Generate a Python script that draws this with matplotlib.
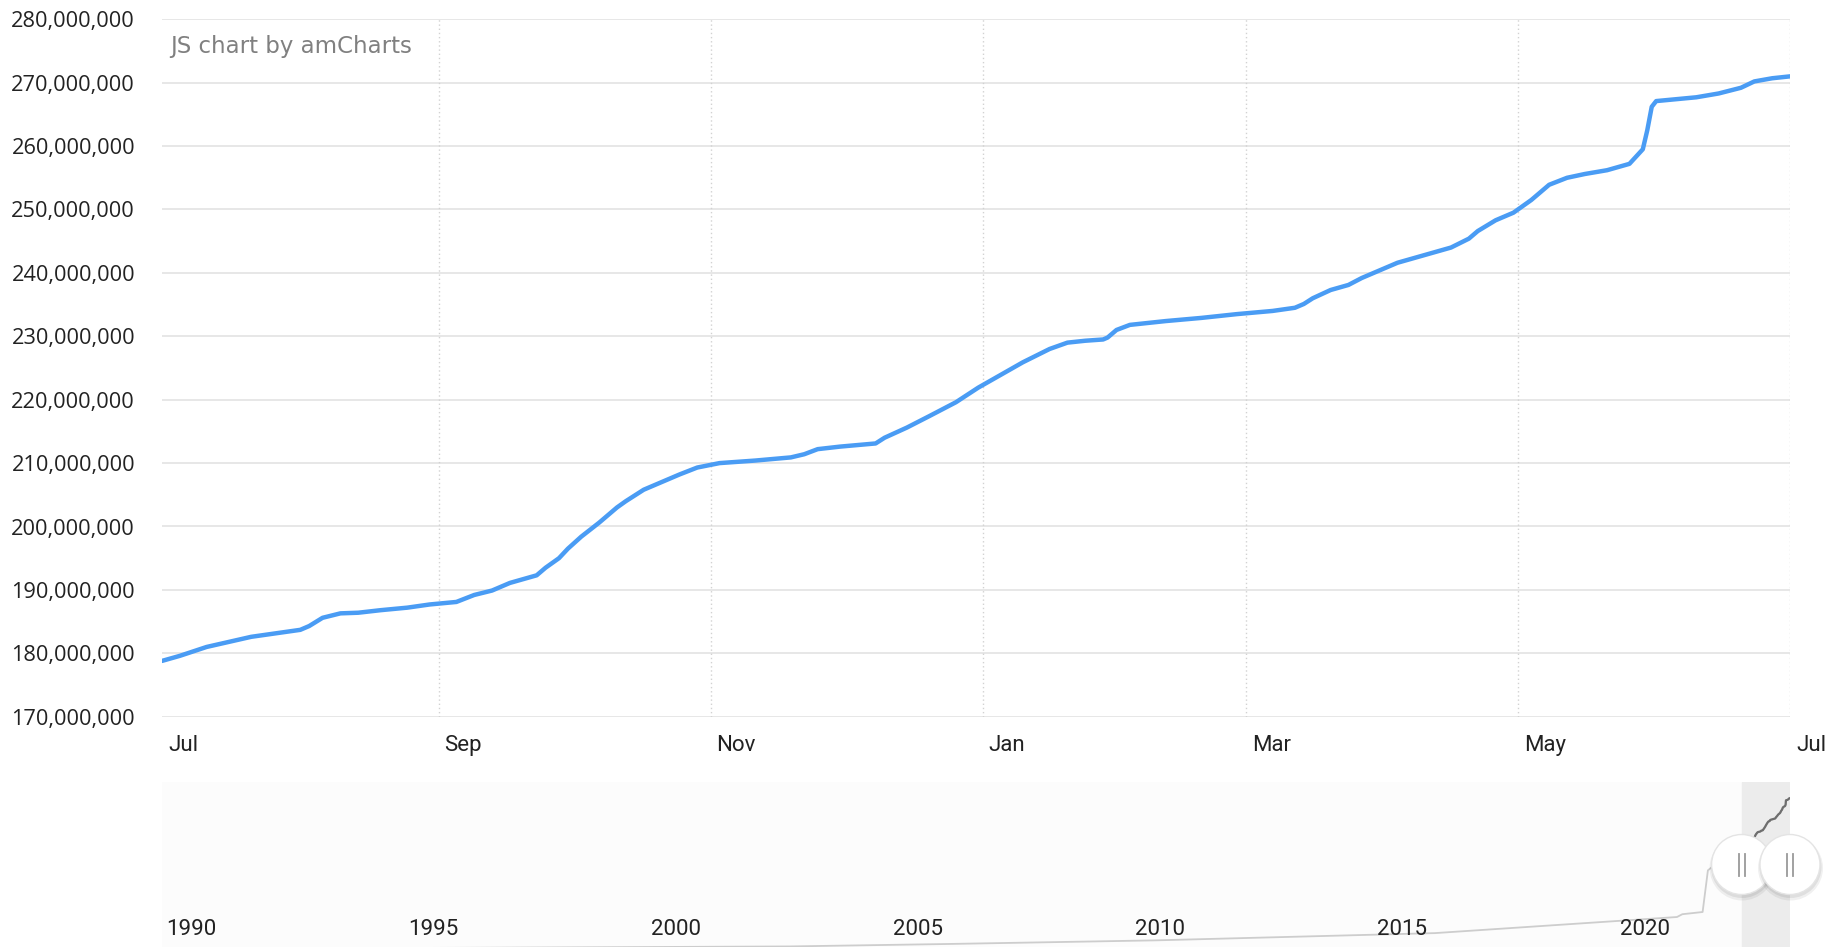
import numpy as np
import pandas as pd
import matplotlib
matplotlib.use('Agg')
import matplotlib.pyplot as plt
import matplotlib.dates as mdates
from matplotlib.ticker import FuncFormatter
from matplotlib.transforms import offset_copy
from matplotlib.patches import Circle

# Serie del periodo visible (millones)
fechas = [
    "2022-07-01", "2022-07-05", "2022-07-11", "2022-07-16", "2022-07-21", "2022-07-27",
    "2022-08-01", "2022-08-03", "2022-08-06", "2022-08-10", "2022-08-14", "2022-08-19",
    "2022-08-25", "2022-08-30", "2022-09-05", "2022-09-09", "2022-09-13", "2022-09-17",
    "2022-09-23", "2022-09-25", "2022-09-28", "2022-09-30", "2022-10-03", "2022-10-07",
    "2022-10-11", "2022-10-13", "2022-10-17", "2022-10-21", "2022-10-25", "2022-10-29",
    "2022-11-03", "2022-11-11", "2022-11-19", "2022-11-22", "2022-11-25", "2022-11-30",
    "2022-12-08", "2022-12-10", "2022-12-15", "2022-12-20", "2022-12-26", "2022-12-31",
    "2023-01-05", "2023-01-10", "2023-01-16", "2023-01-20", "2023-01-24", "2023-01-28",
    "2023-01-29", "2023-01-31", "2023-02-03", "2023-02-11", "2023-02-19", "2023-02-27",
    "2023-03-07", "2023-03-12", "2023-03-14", "2023-03-16", "2023-03-20", "2023-03-24",
    "2023-03-27", "2023-03-31", "2023-04-04", "2023-04-09", "2023-04-14", "2023-04-16",
    "2023-04-20", "2023-04-22", "2023-04-26", "2023-04-30", "2023-05-04", "2023-05-08",
    "2023-05-12", "2023-05-16", "2023-05-21", "2023-05-26", "2023-05-29", "2023-05-30",
    "2023-05-31", "2023-06-01", "2023-06-10", "2023-06-15", "2023-06-20", "2023-06-23",
    "2023-06-27", "2023-07-01",
]
valores = [
    178.8, 179.6, 181.0, 181.8, 182.6, 183.2,
    183.7, 184.3, 185.6, 186.3, 186.4, 186.8,
    187.2, 187.7, 188.1, 189.2, 189.9, 191.1,
    192.3, 193.5, 195.0, 196.5, 198.4, 200.6,
    203.0, 204.0, 205.8, 207.0, 208.2, 209.3,
    210.0, 210.4, 210.9, 211.4, 212.2, 212.6,
    213.1, 214.0, 215.6, 217.4, 219.6, 221.9,
    223.9, 225.9, 228.0, 229.0, 229.3, 229.5,
    229.8, 231.0, 231.8, 232.4, 232.9, 233.5,
    234.0, 234.5, 235.1, 236.0, 237.3, 238.1,
    239.2, 240.4, 241.6, 242.6, 243.6, 244.0,
    245.4, 246.6, 248.3, 249.5, 251.5, 253.9,
    255.0, 255.6, 256.2, 257.2, 259.5, 262.5,
    266.2, 267.1, 267.7, 268.3, 269.2, 270.2,
    270.7, 271.0,
]

# Historia completa que se ve en la barra de desplazamiento (millones)
fechas_hist = ["1989-11-20", "1996-01-01", "2002-11-01", "2006-03-01", "2010-06-01",
               "2016-03-01", "2021-03-01", "2021-04-10", "2021-09-10", "2021-10-20", "2022-04-01"]
valores_hist = [0, 1.5, 4, 8.5, 15, 28, 57, 62, 66, 141, 172]

meses = ["2022-07-01", "2022-09-01", "2022-11-01", "2023-01-01", "2023-03-01", "2023-05-01", "2023-07-01"]
etiquetas_mes = ["Jul", "Sep", "Nov", "Jan", "Mar", "May", "Jul"]
anios = [1990, 1995, 2000, 2005, 2010, 2015, 2020]

W, H = 1828, 947
fig = plt.figure(figsize=(W / 100, H / 100), dpi=100)
fig.patch.set_facecolor('white')

# --- grafico principal ---
ax = fig.add_axes([162 / W, 1 - 716.7 / H, 1628 / W, (716.7 - 19.3) / H])
x = pd.to_datetime(fechas)
y = np.array(valores) * 1e6
ax.plot(x, y, color='#4a9cf4', lw=3.2, solid_joinstyle='round', solid_capstyle='round', zorder=3)

inicio, fin = pd.Timestamp(meses[0]), pd.Timestamp(meses[-1])
ax.set_xlim(inicio, fin)
ax.set_ylim(170e6, 280e6)
ax.set_yticks(np.arange(170e6, 280e6 + 1, 10e6))
ax.yaxis.set_major_formatter(FuncFormatter(lambda v, p: f'{v:,.0f}'))
ax.tick_params(axis='y', length=0, pad=19.4, labelsize=15.7, labelcolor='#222222')
for lbl in ax.get_yticklabels():
    lbl.set_fontfamily('Open Sans')
ax.set_xticks([])
ax.grid(axis='y', color='#e3e3e3', lw=1.2)
ax.set_axisbelow(True)
for m in meses[1:]:
    ax.axvline(pd.Timestamp(m), color='#d2d2d2', lw=1, ls=(0, (1, 2)), zorder=1)
for s in ax.spines.values():
    s.set_visible(False)

tr = offset_copy(ax.get_xaxis_transform(), fig=fig, x=6, y=-29, units='dots')
for m, lab in zip(meses, etiquetas_mes):
    ax.text(pd.Timestamp(m), 0, lab, transform=tr, ha='left', va='center',
            fontsize=16, family='Roboto', color='#222222')

ax.text(0.005, 0.9603, 'JS chart by amCharts', transform=ax.transAxes, ha='left', va='center',
        fontsize=16.5, family='DejaVu Sans', color='#808080')

# --- barra de desplazamiento ---
ax2 = fig.add_axes([162 / W, 0, 1628 / W, 165 / H])
ax2.set_facecolor('#fcfcfc')
x_hist = pd.to_datetime(fechas_hist)
todo_x = np.concatenate([mdates.date2num(x_hist), mdates.date2num(x)])
todo_y = np.concatenate([valores_hist, valores])
ax2.set_xlim(pd.Timestamp(fechas_hist[0]), fin)
ax2.set_ylim(3, 300)
ax2.axvspan(inicio, fin, color='#ececec', zorder=0.5)
ax2.plot(todo_x, todo_y, color='#cdcdcd', lw=1.3, zorder=1)
ax2.plot(x, valores, color='#6e6e6e', lw=1.6, zorder=2)
ax2.set_xticks([])
ax2.set_yticks([])
for s in ax2.spines.values():
    s.set_visible(False)
for a in anios:
    ax2.text(pd.Timestamp(f'{a}-07-01'), 0.109, str(a), transform=ax2.get_xaxis_transform(),
             ha='center', va='center', fontsize=16, family='Roboto', color='#222222')

# tiradores de la barra
ov = fig.add_axes([0, 0, 1, 1], zorder=5)
ov.set_xlim(0, W)
ov.set_ylim(0, H)
ov.axis('off')
cy = ax2.transAxes.transform((0, 0.5))[1]
for d in [inicio, fin]:
    cx = ax2.transData.transform((mdates.date2num(d), 0))[0]
    ov.add_patch(Circle((cx + 0.5, cy - 3.5), 32.5, color='black', alpha=0.06, lw=0))
    ov.add_patch(Circle((cx + 0.5, cy - 2.5), 31, color='black', alpha=0.07, lw=0))
    ov.add_patch(Circle((cx, cy), 30, fc='white', ec='#e4e4e4', lw=1))
    for dx in (-3, 3):
        ov.plot([cx + dx, cx + dx], [cy - 11, cy + 11], color='#9a9a9a', lw=1.3)

fig.savefig('out.png', dpi=100)
